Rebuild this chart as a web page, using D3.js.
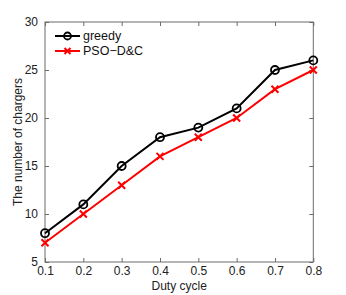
<!DOCTYPE html>
<html><head><meta charset="utf-8">
<script src="https://cdn.jsdelivr.net/npm/d3@7"></script>
<style>body{margin:0;background:#fff}svg{display:block}</style>
</head><body><svg id="c" width="346" height="295"></svg>
<script>
const dutyCycle = [0.1,0.2,0.3,0.4,0.5,0.6,0.7,0.8];
const greedy = [8,11,15,18,19,21,25,26];
const psoDC = [7,10,13,16,18,20,23,25];
const xTicks = [0.1,0.2,0.3,0.4,0.5,0.6,0.7,0.8];
const yTicks = [5,10,15,20,25,30];
const seriesNames = ["greedy","PSO\u2212D&C"];

const svg = d3.select("#c");
const L=45, R=313.3, T=22, B=262;
const x = d3.scaleLinear().domain([0.1,0.8]).range([L,R]);
const y = d3.scaleLinear().domain([5,30]).range([B,T]);
const font = "Helvetica, Arial, 'Liberation Sans', sans-serif";
const axisCol = "#6b6b6b";

// box
svg.append("rect").attr("x",L).attr("y",T).attr("width",R-L).attr("height",B-T)
  .attr("fill","none").attr("stroke",axisCol).attr("stroke-width",1);

const tl = 4;
const gb = svg.append("g").attr("transform",`translate(0,${B})`)
  .call(d3.axisBottom(x).tickValues(xTicks).tickSizeInner(-tl).tickSizeOuter(0).tickFormat(d3.format(".1f")));
const gt = svg.append("g").attr("transform",`translate(0,${T})`)
  .call(d3.axisTop(x).tickValues(xTicks).tickSizeInner(-tl).tickSizeOuter(0).tickFormat(""));
const gl = svg.append("g").attr("transform",`translate(${L},0)`)
  .call(d3.axisLeft(y).tickValues(yTicks).tickSizeInner(-tl).tickSizeOuter(0).tickPadding(7).tickFormat(d3.format("d")));
const gr = svg.append("g").attr("transform",`translate(${R},0)`)
  .call(d3.axisRight(y).tickValues(yTicks).tickSizeInner(-tl).tickSizeOuter(0).tickFormat(""));
[gb,gt,gl,gr].forEach(g=>{
  g.select(".domain").remove();
  g.selectAll(".tick line").attr("stroke",axisCol);
  g.selectAll("text").attr("fill","#222").style("font-family",font).style("font-size","12px");
});
gb.selectAll("text").attr("y",13).attr("dy","0");

const line = d3.line().x((d,i)=>x(dutyCycle[i])).y(d=>y(d));
// greedy
svg.append("path").datum(greedy).attr("d",line).attr("fill","none").attr("stroke","#000").attr("stroke-width",2);
svg.selectAll(".gm").data(greedy).enter().append("circle")
  .attr("cx",(d,i)=>x(dutyCycle[i])).attr("cy",d=>y(d)).attr("r",4)
  .attr("fill","none").attr("stroke","#000").attr("stroke-width",1.8);
// PSO
svg.append("path").datum(psoDC).attr("d",line).attr("fill","none").attr("stroke","#ff0000").attr("stroke-width",2);
function cross(g,cx,cy,s){
  g.append("path").attr("d",`M${cx-s},${cy-s}L${cx+s},${cy+s}M${cx-s},${cy+s}L${cx+s},${cy-s}`)
   .attr("stroke","#ff0000").attr("stroke-width",2).attr("fill","none");
}
psoDC.forEach((d,i)=>cross(svg,x(dutyCycle[i]),y(d),3.5));

// legend
const lg = svg.append("g");
const ly = [36,51];
lg.append("line").attr("x1",55).attr("x2",80).attr("y1",ly[0]).attr("y2",ly[0]).attr("stroke","#000").attr("stroke-width",2);
lg.append("circle").attr("cx",67.5).attr("cy",ly[0]).attr("r",3.5).attr("fill","none").attr("stroke","#000").attr("stroke-width",1.8);
lg.append("line").attr("x1",55).attr("x2",80).attr("y1",ly[1]).attr("y2",ly[1]).attr("stroke","#ff0000").attr("stroke-width",2);
cross(lg,67.5,ly[1],3);
seriesNames.forEach((n,i)=>{
  lg.append("text").attr("x",83).attr("y",ly[i]).attr("dy","0.35em").text(n)
    .style("font-family",font).style("font-size","12.5px").attr("fill","#111");
});

// axis labels
svg.append("text").attr("x",(L+R)/2).attr("y",289.5).attr("text-anchor","middle").text("Duty cycle")
  .style("font-family",font).style("font-size","12px").attr("fill","#222");
svg.append("text").attr("transform",`translate(22,${(T+B)/2}) rotate(-90)`).attr("text-anchor","middle").text("The number of chargers")
  .style("font-family",font).style("font-size","12px").attr("fill","#222");
</script></body></html>
